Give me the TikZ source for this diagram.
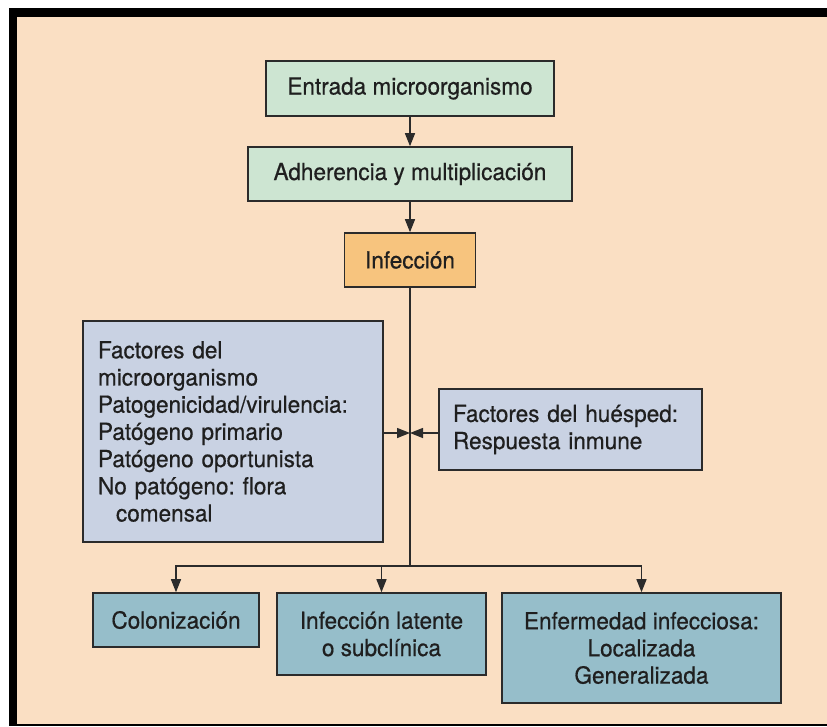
\documentclass[tikz,border=0pt]{standalone}
\usepackage{fontspec}
\setmainfont{TeX Gyre Heros}[FakeBold=0.5, FakeStretch=0.96]
\usepackage{xcolor}
\usetikzlibrary{positioning, calc, arrows.meta}
\definecolor{fondo}{HTML}{FADFC3}
\definecolor{verde}{HTML}{CDE5D2}
\definecolor{naranja}{HTML}{F7C47E}
\definecolor{lila}{HTML}{C9D2E3}
\definecolor{azul}{HTML}{96BECA}
\definecolor{borde}{HTML}{2B2B2B}
\frenchspacing

\begin{document}
\begin{tikzpicture}[x=1pt, y=-1pt,
        caja/.style={draw=borde, line width=1.6pt, rectangle, inner sep=0pt,
        font=\fontsize{23.5}{27.2}\selectfont, text=black!88},
        linea/.style={draw=borde, line width=1.4pt},
        flecha/.style={linea, -{Triangle[length=13pt, width=10pt]}}]
        \useasboundingbox (0,0) rectangle (827,726);
        \fill[white] (0,0) rectangle (827,726);
        \fill[fondo] (9,8) rectangle (827,726);
        \fill[black] (9,8) rectangle (827,17);
        \fill[black] (9,8) rectangle (17,726);
        \fill[black] (9,723.5) rectangle (827,726);

        \node (entrada) [caja, fill=verde, minimum width=288pt, minimum
        height=55pt] at (410,88.5) {Entrada microorganismo};
        \node (adher) [caja, fill=verde, minimum width=324pt, minimum
        height=54pt] at (410,174) {Adherencia y multiplicación};
        \node (infec) [caja, fill=naranja, minimum width=131pt, minimum
        height=54pt] at (410,260) {Infección};
        \node (factm) [caja, fill=lila, minimum width=300pt, minimum
        height=221pt, text width=270pt, align=left] at (233,431.5)
        {Factores del\\ microorganismo\\ Patogenicidad/virulencia:\\
        Patógeno primario\\ Patógeno oportunista\\ No patógeno: flora\\
        \hspace*{18pt}comensal};
        \node (facth) [caja, fill=lila, minimum width=263pt, minimum
        height=81pt, text width=235pt, align=left] at (570.5,429.5)
        {Factores del huésped:\\ Respuesta inmune};
        \node (colon) [caja, fill=azul, minimum width=166pt, minimum
        height=54pt] at (176,620) {Colonización};
        \node (latente) [caja, fill=azul, minimum width=209pt, minimum
        height=82pt, align=center] at (381.5,634)
        {Infección latente\\ o subclínica};
        \node (enferm) [caja, fill=azul, minimum width=279pt, minimum
        height=110pt, align=center] at (641.5,648)
        {Enfermedad infecciosa:\\ Localizada\\ Generalizada};

        \coordinate (cruce) at (410,433);
        \coordinate (split) at (410,566);

        \draw [flecha] (entrada) -- (adher);
        \draw [flecha] (adher) -- (infec);
        \draw [linea] (infec) -- (split);
        \draw [flecha] (split) -| (colon);
        \draw [flecha] (split) -| (latente);
        \draw [flecha] (split) -| (enferm);
        \draw [flecha] (factm.east |- cruce) -- (cruce);
        \draw [flecha] (facth.west |- cruce) -- (cruce);
    \end{tikzpicture}
\end{document}
